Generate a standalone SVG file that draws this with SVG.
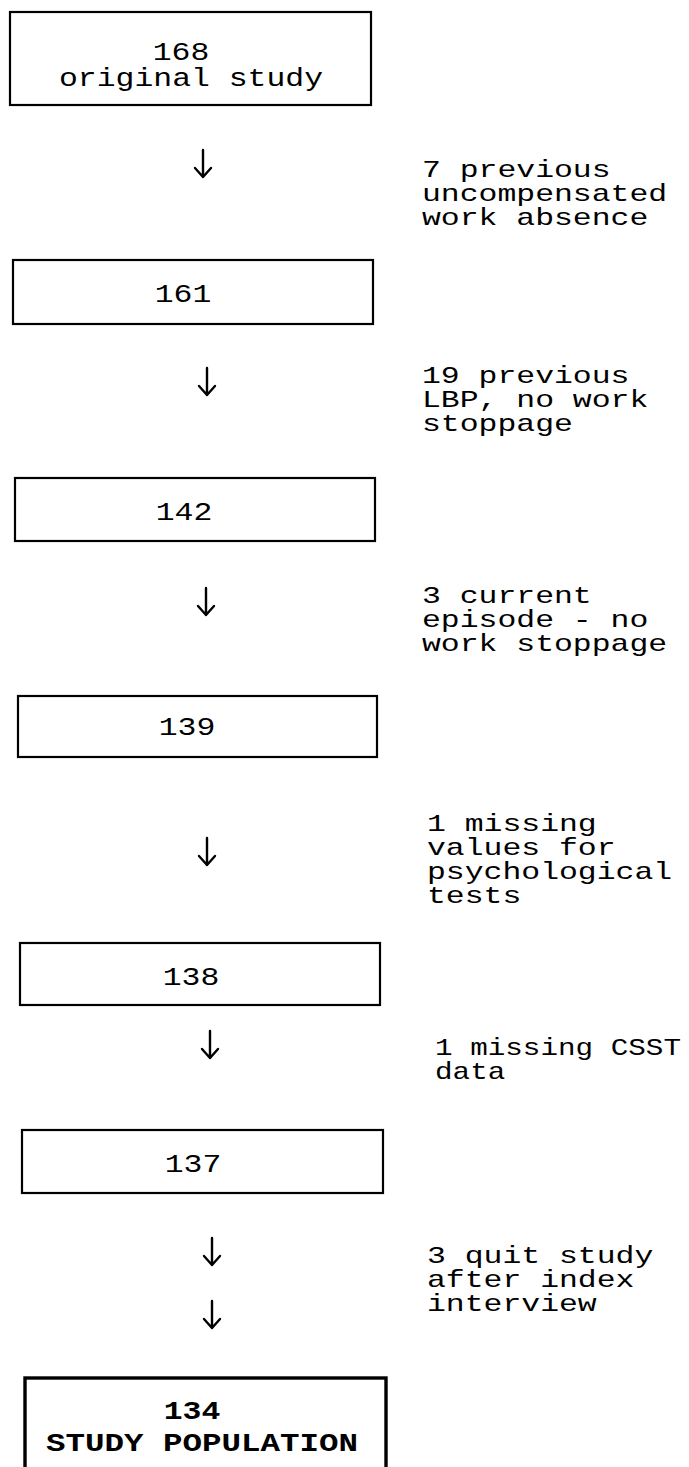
<svg xmlns="http://www.w3.org/2000/svg" width="689" height="1467" viewBox="0 0 689 1467">
<style>
.box{fill:#fff;stroke:#000;stroke-width:2.2}
.final{fill:#fff;stroke:#000;stroke-width:3.4}
.t{font-family:"Liberation Mono","DejaVu Sans Mono",monospace;font-size:24px;fill:#000}
.n{font-size:26px}
.c{text-anchor:middle}
.b{font-weight:bold}
.arr{fill:none;stroke:#000;stroke-width:2.4;stroke-linecap:round;stroke-linejoin:round}
</style>
<defs>
<path id="arrow" d="M0,0 V27 M-8,18 L0,27 L8,18"/>
</defs>
<rect width="689" height="1467" fill="#fff"/>

<g id="connectors" class="arr">
<use href="#arrow" transform="translate(203,150)"/>
<use href="#arrow" transform="translate(207,368)"/>
<use href="#arrow" transform="translate(206,588)"/>
<use href="#arrow" transform="translate(207,838)"/>
<use href="#arrow" transform="translate(210,1031)"/>
<use href="#arrow" transform="translate(212,1238)"/>
<use href="#arrow" transform="translate(212,1301)"/>
</g>

<g id="n168">
<rect class="box" x="10" y="12" width="361" height="93"/>
<text class="t n c" transform="matrix(1.21 0 0 1 181 60)">168</text>
<text class="t n c" transform="matrix(1.21 0 0 1 191 86)">original study</text>
</g>

<g id="excl1">
<text class="t" transform="matrix(1.31 0 0 1 422 177)"><tspan x="0" y="0">7 previous</tspan><tspan x="0" y="24">uncompensated</tspan><tspan x="0" y="48">work absence</tspan></text>
</g>

<g id="n161">
<rect class="box" x="13" y="260" width="360" height="64"/>
<text class="t n c" transform="matrix(1.21 0 0 1 183 302)">161</text>
</g>

<g id="excl2">
<text class="t" transform="matrix(1.31 0 0 1 422 383)"><tspan x="0" y="0">19 previous</tspan><tspan x="0" y="24">LBP, no work</tspan><tspan x="0" y="48">stoppage</tspan></text>
</g>

<g id="n142">
<rect class="box" x="15" y="478" width="360" height="63"/>
<text class="t n c" transform="matrix(1.21 0 0 1 184 520)">142</text>
</g>

<g id="excl3">
<text class="t" transform="matrix(1.31 0 0 1 422 603)"><tspan x="0" y="0">3 current</tspan><tspan x="0" y="24">episode - no</tspan><tspan x="0" y="48">work stoppage</tspan></text>
</g>

<g id="n139">
<rect class="box" x="18" y="696" width="359" height="61"/>
<text class="t n c" transform="matrix(1.21 0 0 1 187 735)">139</text>
</g>

<g id="excl4">
<text class="t" transform="matrix(1.31 0 0 1 427 831)"><tspan x="0" y="0">1 missing</tspan><tspan x="0" y="24">values for</tspan><tspan x="0" y="48">psychological</tspan><tspan x="0" y="72">tests</tspan></text>
</g>

<g id="n138">
<rect class="box" x="20" y="943" width="360" height="62"/>
<text class="t n c" transform="matrix(1.21 0 0 1 191 985)">138</text>
</g>

<g id="excl5">
<text class="t" transform="matrix(1.22 0 0 1 435 1055)"><tspan x="0" y="0">1 missing CSST</tspan><tspan x="0" y="24">data</tspan></text>
</g>

<g id="n137">
<rect class="box" x="22" y="1130" width="361" height="63"/>
<text class="t n c" transform="matrix(1.21 0 0 1 193 1172)">137</text>
</g>

<g id="excl6">
<text class="t" transform="matrix(1.31 0 0 1 427 1263)"><tspan x="0" y="0">3 quit study</tspan><tspan x="0" y="24">after index</tspan><tspan x="0" y="48">interview</tspan></text>
</g>

<g id="n134">
<rect class="final" x="25" y="1378" width="361" height="110"/>
<text class="t n c b" transform="matrix(1.21 0 0 1 192 1419)">134</text>
<text class="t n c b" transform="matrix(1.25 0 0 1 202 1451)">STUDY POPULATION</text>
</g>
</svg>
